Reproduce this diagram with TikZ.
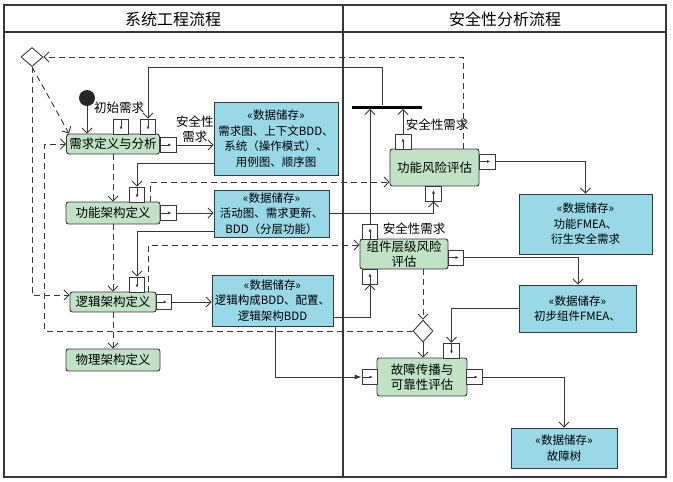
\documentclass[tikz,border=0pt]{standalone}
\usepackage{fontspec}
\setmainfont{Noto Sans CJK SC}
\usetikzlibrary{arrows.meta,shapes.geometric}
\definecolor{procgreen}{RGB}{193,226,196}
\definecolor{storecyan}{RGB}{153,216,230}
\definecolor{linegray}{RGB}{55,55,55}

\begin{document}
\begin{tikzpicture}[x=1pt, y=-1pt, line width=0.9pt,
    >={Straight Barb[length=5pt,width=10pt]},
    proc/.style={draw=linegray, fill=procgreen, rounded corners=2.5pt, inner sep=1pt, align=center, font=\fontsize{12.5}{15}\selectfont},
    store/.style={draw=linegray, fill=storecyan, inner sep=1pt, align=center, font=\fontsize{11.5}{15.5}\selectfont},
    pinbox/.style={draw=linegray, fill=white, minimum width=15pt, minimum height=15pt, inner sep=0pt, line width=0.6pt},
    decide/.style={diamond, draw=linegray, fill=white, inner sep=0pt},
    flow/.style={draw=linegray, ->},
    flowdash/.style={flow, dash pattern=on 6pt off 4pt},
    pinarrow/.style={draw=linegray, line width=0.5pt, -{Latex[length=3pt,width=3pt]}},
    lab/.style={inner sep=1pt, align=center, font=\fontsize{12.5}{15}\selectfont}]
    \useasboundingbox (0,0) rectangle (673,482);

    % Lanes
    \draw[linegray, line width=1.2pt] (4,5) rectangle (666,477);
    \draw[linegray, line width=1.2pt] (4,32) -- (666,32);
    \draw[linegray, line width=1.2pt] (343,5) -- (343,477);
    \node[font=\fontsize{16}{18}\selectfont] (hsys) at (173,19) {系统工程流程};
    \node[font=\fontsize{16}{18}\selectfont] (hsaf) at (505,19) {安全性分析流程};

    % Systems engineering
    \node[circle, fill=black!85, minimum size=16pt, inner sep=0pt] (start) at (87,98) {};
    \node[decide, minimum width=22pt, minimum height=19pt] (d1) at (32,57) {};
    \node[proc, minimum width=93pt, minimum height=20pt] (req) at (113,144) {需求定义与分析};
    \node[proc, minimum width=94pt, minimum height=22pt] (func) at (113,213) {功能架构定义};
    \node[proc, minimum width=86pt, minimum height=20pt] (logic) at (113,302) {逻辑架构定义};
    \node[proc, minimum width=94pt, minimum height=22pt] (phys) at (113,360) {物理架构定义};
    \node[lab] (initreq) at (119,108) {初始需求};

    % Data stores (left)
    \node[store, minimum width=124pt, minimum height=73pt] (s1) at (276,138.5) {«数据储存»\\需求图、上下文BDD、\\系统（操作模式）、\\用例图、顺序图};
    \node[store, minimum width=115pt, minimum height=47pt] (s2) at (271.5,213.5) {«数据储存»\\活动图、需求更新、\\BDD（分层功能）};
    \node[store, minimum width=121pt, minimum height=51pt] (s3) at (272.5,300.5) {«数据储存»\\逻辑构成BDD、配置、\\逻辑架构BDD};

    % Safety analysis
    \node[fill=black, minimum width=70pt, minimum height=3pt, inner sep=0pt] (bar) at (387,107) {};
    \node[proc, minimum width=89pt, minimum height=37pt] (fra) at (434.5,167.5) {功能风险评估};
    \node[proc, minimum width=88pt, minimum height=30pt] (cra) at (404,254) {组件层级风险\\评估};
    \node[decide, minimum width=20pt, minimum height=22pt] (d2) at (423,331) {};
    \node[proc, minimum width=90pt, minimum height=38pt] (fpa) at (422,377) {故障传播与\\可靠性评估};
    \node[lab] (sreq1) at (437,125) {安全性需求};
    \node[lab] (sreq2) at (414,229) {安全性需求};

    % Data stores (right)
    \node[store, minimum width=133pt, minimum height=60pt] (s4) at (585.5,224) {«数据储存»\\功能FMEA、\\衍生安全需求};
    \node[store, minimum width=117pt, minimum height=47pt] (s5) at (577.5,308.5) {«数据储存»\\初步组件FMEA、};
    \node[store, minimum width=106pt, minimum height=40pt] (s6) at (564,448) {«数据储存»\\故障树};

    % Pins
    \node[pinbox] (rp1) at (121,126.5) {};
    \node[pinbox] (rp2) at (148,126.5) {};
    \node[pinbox, minimum width=16pt] (ro) at (168,145) {};
    \node[pinbox] (fp) at (137,194.5) {};
    \node[pinbox, minimum width=16pt] (fo) at (168,213) {};
    \node[pinbox] (lp) at (137,284.5) {};
    \node[pinbox] (lo) at (163.5,302) {};
    \node[pinbox, minimum width=16pt] (fap) at (403,141.5) {};
    \node[pinbox, minimum width=16pt] (fao) at (487,161.5) {};
    \node[pinbox, minimum width=16pt] (fab) at (433.5,193.5) {};
    \node[pinbox] (cap) at (370,231.5) {};
    \node[pinbox] (cao) at (455.5,257.5) {};
    \node[pinbox] (cab) at (370,276.5) {};
    \node[pinbox, minimum width=16pt] (fpp) at (451.5,350.5) {};
    \node[pinbox] (fpl) at (369.5,377) {};
    \node[pinbox, minimum width=16pt] (fpo) at (474.5,377) {};
    \foreach \p in {rp1,rp2,fp,lp,fpp}
        \draw[pinarrow] (\p.north) -- ([yshift=-3pt]\p.center);
    \foreach \p in {fap,fab,cap,cab}
        \draw[pinarrow] (\p.south) -- ([yshift=3pt]\p.center);
    \foreach \p in {ro,fo,lo,fao,cao,fpo,fpl}
        \draw[pinarrow] (\p.west) -- ([xshift=3pt]\p.center);

    % Control flow
    \draw[flow] (start) -- (start |- req.north);
    \draw[flowdash] ([xshift=28.5pt]fra.north) |- (d1.east);
    \draw[flowdash] (d1.south) -- ([xshift=3pt]req.north west);
    \draw[flowdash] (d1.south) |- ([yshift=7pt]logic.west);
    \draw[flowdash] (req.south) -- (func.north);
    \draw[flowdash] (func.south) -- (logic.north);
    \draw[flowdash] (logic.south) -- (phys.north);
    \draw[flowdash] ([xshift=-10pt]func.north east) |- ([yshift=-14.5pt]fra.west);
    \draw[flowdash] ([xshift=-8pt]logic.north east) |- ([yshift=9pt]cra.west);
    \draw[flowdash] (d2.west) -| ([xshift=-21.5pt]req.west) -- (req.west);
    \draw[flowdash] (d2.north |- cra.south) -- (d2.north);
    \draw[flow] (d2.south) -- (d2.south |- fpa.north);

    % Object flow
    \draw[flow] (ro) -- (s1.west |- ro) node[lab, midway, above=1pt] {安全性\\需求};
    \draw[flow] ([yshift=12pt]s1.south west) -| (fp.north);
    \draw[flow] (fo) -- (s2.west |- fo);
    \draw[flow] ([yshift=6pt]s2.south west) -| (lp.north);
    \draw[flow] (s2.east) -| (fab.south);
    \draw[flow] (lo) -- (s3.west |- lo);
    \draw[flow] ([yshift=9pt]s3.south east) -| (cab.south);
    \draw[draw=linegray, -{Latex[length=7pt,width=5pt]}] ([xshift=2.5pt]s3.south) |- (fpl.west);
    \draw[flow] (fap.north) -- (fap.north |- bar.south);
    \draw[flow] (cap.north) -- (cap.north |- bar.south);
    \draw[flow] ([xshift=-5pt]bar.north) -- ++(0,-37.5) -| (rp2.north);
    \draw[flow] (fao.east) -| (s4.north);
    \draw[flow] (cao.east) -| ([xshift=0.5pt]s5.north);
    \draw[flow] (s5.west) -| (fpp.north);
    \draw[flow] (fpo.east) -| (s6.north);
\end{tikzpicture}
\end{document}
